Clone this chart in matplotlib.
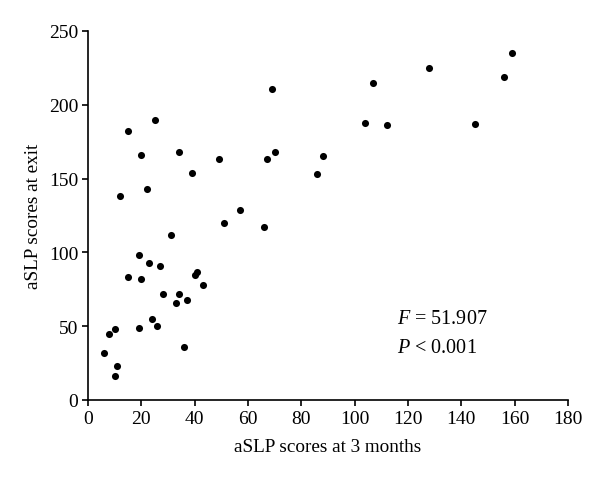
import matplotlib
matplotlib.use("Agg")
import matplotlib.pyplot as plt

x_3months = [6, 8, 10, 10, 11, 12, 15, 15, 19, 19, 20, 20, 22, 23, 24, 25, 26, 27, 28, 31,
             33, 34, 34, 36, 37, 39, 40, 41, 43, 49, 51, 57, 66, 67, 69, 70, 86, 88, 104, 107,
             112, 128, 145, 156, 159]
y_exit = [32, 45, 48, 16, 23, 138, 83, 182, 98, 49, 166, 82, 143, 93, 55, 190, 50, 91, 72, 112,
          66, 168, 72, 36, 68, 154, 85, 87, 78, 163, 120, 129, 117, 163, 211, 168, 153, 165, 188, 215,
          186, 225, 187, 219, 235]
x_ticks = [0, 20, 40, 60, 80, 100, 120, 140, 160, 180]
y_ticks = [0, 50, 100, 150, 200, 250]

plt.rcParams['font.family'] = ['Liberation Serif', 'DejaVu Serif']
plt.rcParams['mathtext.fontset'] = 'custom'
plt.rcParams['mathtext.rm'] = 'Liberation Serif'
plt.rcParams['mathtext.it'] = 'Liberation Serif:italic'

fig = plt.figure(figsize=(6.0, 4.81), dpi=100)
ax = fig.add_axes([88/600, 80/481, 480/600, 369/481])
ax.scatter(x_3months, y_exit, s=26, color='black', zorder=3, linewidths=0)
ax.set_xlim(0, 180)
ax.set_ylim(0, 250)
ax.set_xticks(x_ticks)
ax.set_yticks(y_ticks)
ax.spines['top'].set_visible(False)
ax.spines['right'].set_visible(False)
for s in ['left', 'bottom']:
    ax.spines[s].set_linewidth(1.2)
ax.tick_params(direction='out', length=4, width=1.2, labelsize=14, pad=3)
ax.set_xlabel('aSLP scores at 3 months', fontsize=13.8, labelpad=8)
ax.set_ylabel('aSLP scores at exit', fontsize=13.8, labelpad=5)
ax.text(116, 55, r'$F$ = 51.907', fontsize=14.5, va='center', ha='left')
ax.text(116, 35.5, r'$P$ < 0.001', fontsize=14.5, va='center', ha='left')
fig.savefig('out.png', dpi=100)
